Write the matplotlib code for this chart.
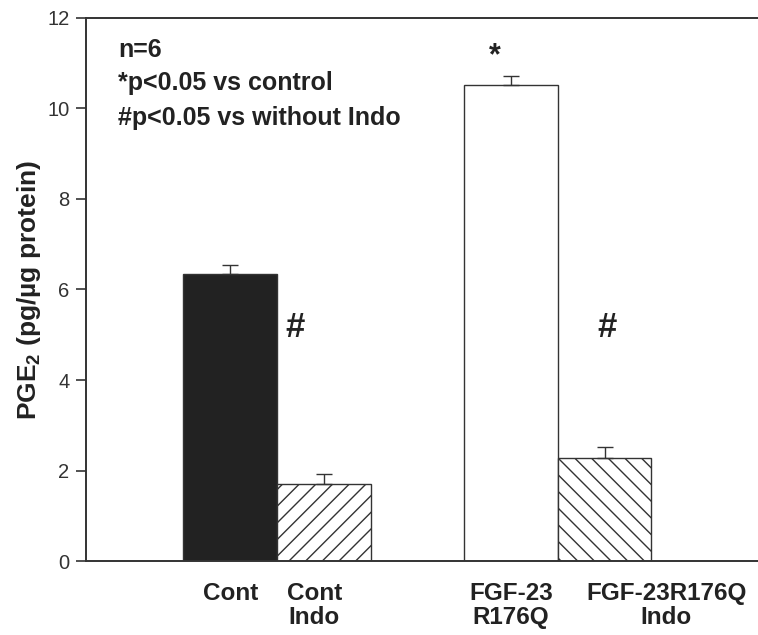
import matplotlib
matplotlib.use("Agg")
import matplotlib.pyplot as plt
import numpy as np

plt.rcParams['font.family'] = ['Liberation Sans', 'DejaVu Sans']
plt.rcParams['mathtext.fontset'] = 'custom'
plt.rcParams['mathtext.rm'] = 'Liberation Sans:bold'
plt.rcParams['mathtext.bf'] = 'Liberation Sans:bold'
plt.rcParams['hatch.linewidth'] = 1.0
plt.rcParams['hatch.color'] = '#222222'

categories = ["Cont", "Cont\nIndo", "FGF-23\nR176Q", "FGF-23R176Q\nIndo"]
values = [6.34, 1.70, 10.52, 2.28]
errors = [0.20, 0.22, 0.20, 0.23]
fills = ['#222222', 'white', 'white', 'white']
hatches = [None, '//', None, '\\\\']
positions = [0, 1, 3, 4]
label_positions = [0, 0.9, 3, 4.66]
yticks = [0, 2, 4, 6, 8, 10, 12]

fig = plt.figure(figsize=(7.58, 6.35), dpi=100)
ax = fig.add_axes([0.1135, 0.1165, 0.8865, 0.8552])

for p, v, f, h in zip(positions, values, fills, hatches):
    ax.bar(p, v, width=1.0, color=f, edgecolor='#333333', linewidth=1.0, hatch=h, zorder=2)
ax.errorbar(positions, values, yerr=[np.zeros(len(errors)), errors], fmt='none',
            ecolor='#333333', elinewidth=1.0, capsize=5.5, capthick=1.0, zorder=3)

ax.set_xlim(-1.54, 5.64)
ax.set_ylim(0, 12)
ax.set_yticks(yticks)
ax.set_yticklabels([str(t) for t in yticks], fontsize=14.5, color='#333333')
ax.tick_params(axis='y', direction='out', length=7, width=1.2, color='#333333', pad=5)
ax.set_xticks(label_positions)
ax.set_xticklabels(categories, fontsize=17.5, fontweight='bold', color='#222222')
ax.tick_params(axis='x', length=0, pad=15)
for lab in ax.get_xticklabels():
    lab.set_linespacing(1.05)

for s in ['left', 'bottom', 'top']:
    ax.spines[s].set_linewidth(1.4)
    ax.spines[s].set_color('#333333')
ax.spines['right'].set_visible(False)

ax.set_ylabel(r'PGE$_{2}$ (pg/µg protein)', fontsize=19, fontweight='bold',
              color='#222222')
ax.yaxis.set_label_coords(-0.064, 0.5)

ax.text(0.0476, 0.941, "n=6", transform=ax.transAxes, fontsize=18, fontweight='bold',
        color='#222222', va='center', ha='left')
ax.text(0.0476, 0.880, "*p<0.05 vs control", transform=ax.transAxes, fontsize=18,
        fontweight='bold', color='#222222', va='center', ha='left')
ax.text(0.0476, 0.816, "#p<0.05 vs without Indo", transform=ax.transAxes, fontsize=18,
        fontweight='bold', color='#222222', va='center', ha='left')

ax.text(0.69, 5.17, "#", fontsize=25, fontweight='bold', color='#222222', ha='center', va='center')
ax.text(4.03, 5.17, "#", fontsize=25, fontweight='bold', color='#222222', ha='center', va='center')
ax.text(2.83, 11.15, "*", fontsize=22, fontweight='bold', color='#222222', ha='center', va='center')

fig.savefig("out.png", dpi=100)
